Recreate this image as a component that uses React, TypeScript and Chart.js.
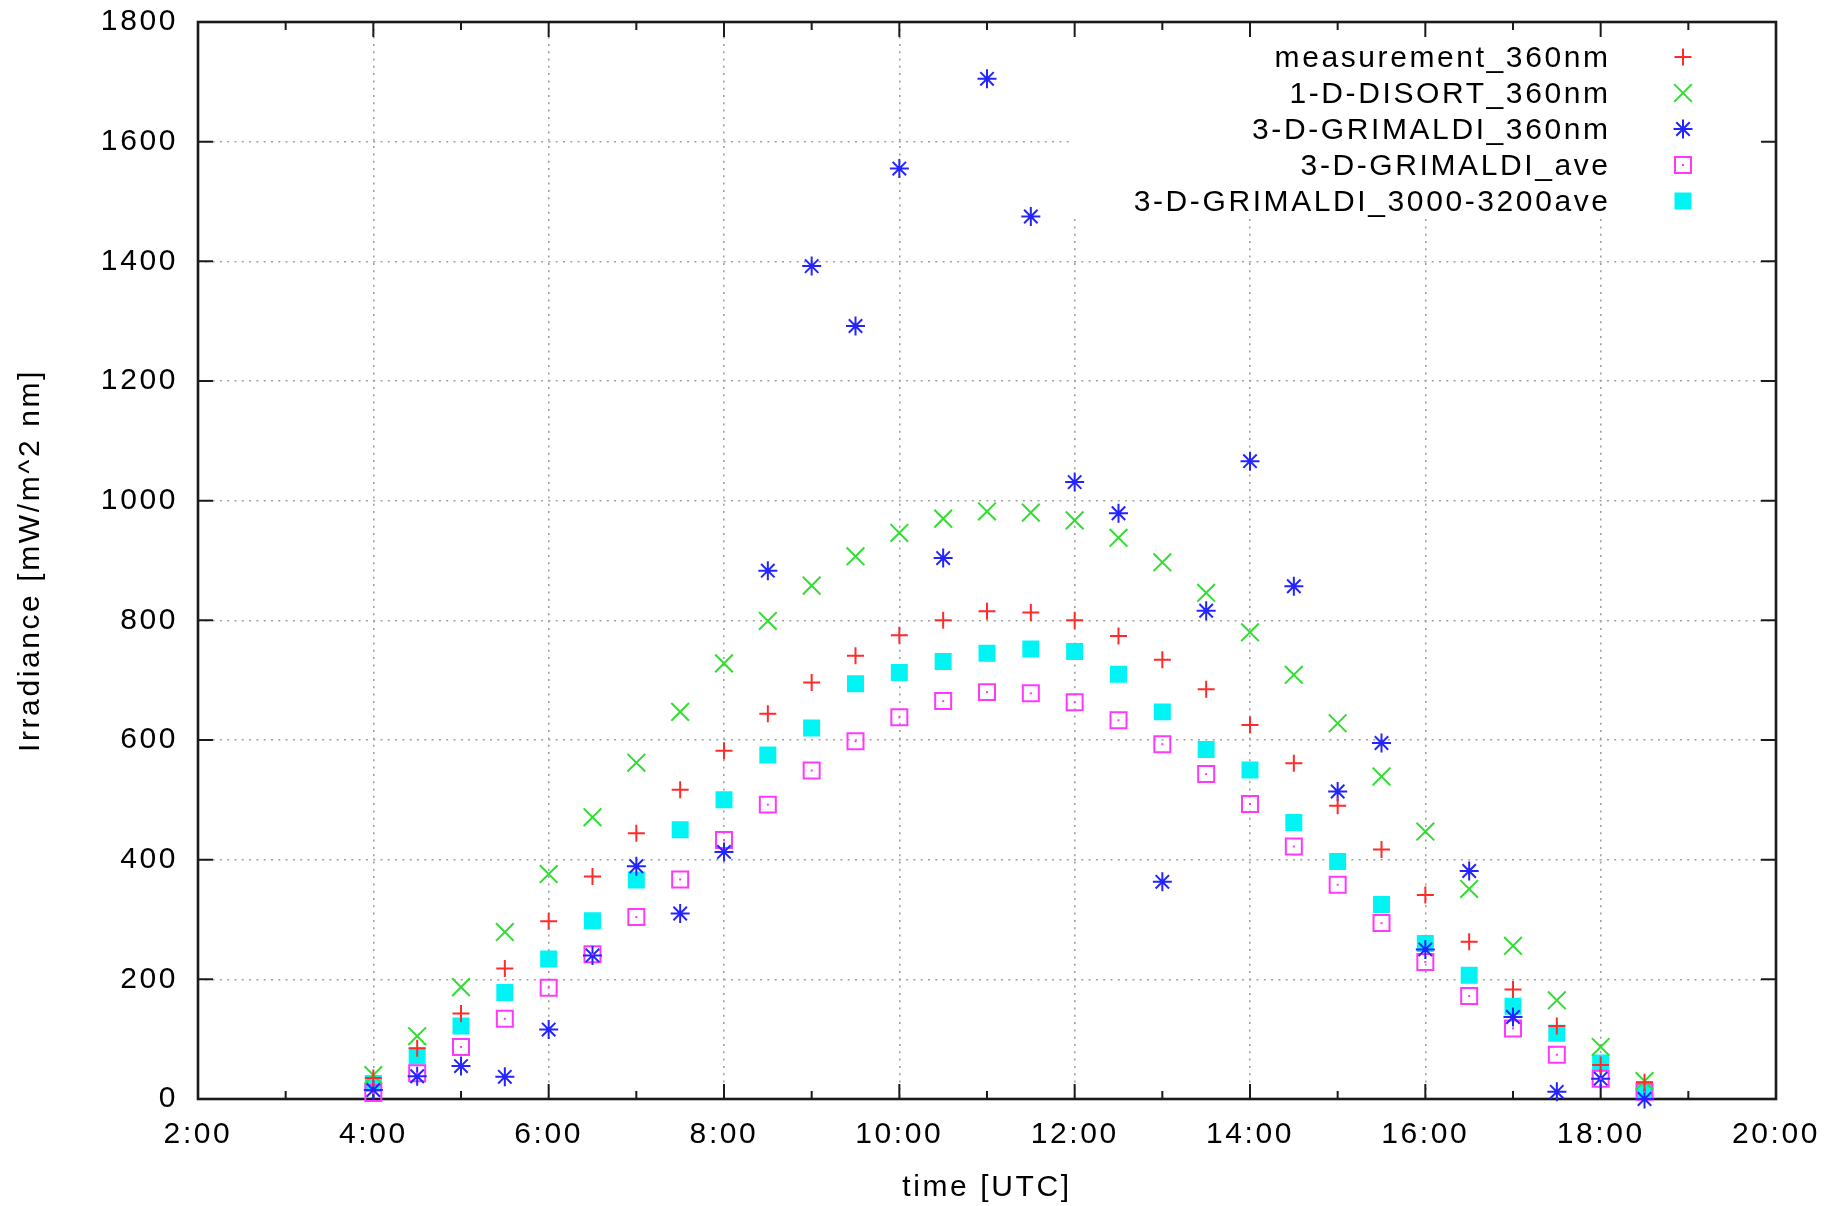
import React, { useEffect, useRef } from 'react';
import { Chart, registerables } from 'chart.js';

Chart.register(...registerables);

// ---- data (hours UTC, irradiance mW/m^2 nm) ----
const timeHours = [4, 4.5, 5, 5.5, 6, 6.5, 7, 7.5, 8, 8.5, 9, 9.5, 10, 10.5, 11, 11.5, 12, 12.5, 13, 13.5, 14, 14.5, 15, 15.5, 16, 16.5, 17, 17.5, 18, 18.5];

const measurement360 = [35, 85, 143, 218, 297, 372, 444, 517, 582, 644, 696, 741, 775, 800, 815, 813, 800, 774, 734, 685, 625, 561, 490, 417, 341, 263, 183, 122, 57, 28];
const disort360 = [40, 105, 187, 279, 376, 471, 562, 647, 728, 799, 858, 907, 946, 970, 982, 980, 967, 938, 897, 846, 780, 709, 628, 539, 447, 351, 256, 165, 87, 30];
const grimaldi360 = [15, 38, 55, 37, 116, 240, 389, 310, 413, 883, 1392, 1292, 1555, 904, 1705, 1475, 1031, 979, 363, 816, 1066, 857, 514, 595, 250, 381, 137, 12, 34, 0];
const grimaldiAve = [10, 43, 87, 134, 186, 242, 304, 367, 433, 492, 549, 598, 638, 665, 680, 678, 663, 633, 593, 543, 493, 422, 358, 294, 229, 172, 118, 74, 34, 12];
const grimaldi3000 = [26, 72, 122, 178, 234, 298, 366, 450, 500, 575, 620, 694, 713, 731, 745, 752, 748, 710, 647, 584, 550, 462, 397, 325, 260, 207, 155, 110, 60, 15];

const seriesNames = [
  'measurement_360nm',
  '1-D-DISORT_360nm',
  '3-D-GRIMALDI_360nm',
  '3-D-GRIMALDI_ave',
  '3-D-GRIMALDI_3000-3200ave',
];
const seriesValues = [measurement360, disort360, grimaldi360, grimaldiAve, grimaldi3000];

const xMin = 2;
const xMax = 20;
const xStep = 2;
const yMin = 0;
const yMax = 1800;
const yStep = 200;
const xTitle = 'time [UTC]';
const yTitle = 'Irradiance [mW/m^2 nm]';

// ---- styles ----
const FONT_FAMILY = "'Liberation Sans', Arial, Helvetica, sans-serif";
const FONT = { family: FONT_FAMILY, size: 30, lineHeight: 1 };
const LETTER_SPACING = '2.6px';

const seriesStyles = [
  { color: '#ff2a2a', pointStyle: 'cross', radius: 8.5, width: 2, fill: 'rgba(0,0,0,0)' },
  { color: '#2fde2f', pointStyle: 'crossRot', radius: 12.5, width: 2, fill: 'rgba(0,0,0,0)' },
  { color: '#2424ff', pointStyle: 'star', radius: 9.5, width: 2, fill: 'rgba(0,0,0,0)' },
  { color: '#ff38ff', pointStyle: 'rect', radius: 11.3, width: 2, fill: 'rgba(0,0,0,0)' },
  { color: '#00f4f4', pointStyle: 'rect', radius: 10.6, width: 2, fill: '#00f4f4' },
];

const KEY_BOX_LEFT = 1070;
const KEY_BOX_BOTTOM = 219;
const KEY_TEXT_RIGHT = 1610.6;
const KEY_MARK_X = 1683;
const KEY_FIRST_Y = 57;
const KEY_ROW = 36;

function drawMarker(ctx: CanvasRenderingContext2D, s: any, x: number, y: number) {
  ctx.save();
  ctx.strokeStyle = s.color;
  ctx.fillStyle = s.fill;
  ctx.lineWidth = s.width;
  const r = s.radius;
  const d = r * Math.SQRT1_2;
  ctx.beginPath();
  if (s.pointStyle === 'cross' || s.pointStyle === 'star') {
    ctx.moveTo(x - r, y); ctx.lineTo(x + r, y);
    ctx.moveTo(x, y - r); ctx.lineTo(x, y + r);
  }
  if (s.pointStyle === 'crossRot' || s.pointStyle === 'star') {
    ctx.moveTo(x - d, y - d); ctx.lineTo(x + d, y + d);
    ctx.moveTo(x + d, y - d); ctx.lineTo(x - d, y + d);
  }
  if (s.pointStyle === 'rect') {
    ctx.rect(x - d, y - d, 2 * d, 2 * d);
    ctx.fill();
  }
  ctx.stroke();
  ctx.restore();
}

const gnuplotFrame = {
  id: 'gnuplotFrame',
  beforeDraw(chart: any) {
    chart.ctx.letterSpacing = LETTER_SPACING;
  },
  beforeDatasetsDraw(chart: any) {
    const { ctx, chartArea: a, scales } = chart;
    ctx.save();
    // opaque key box
    ctx.fillStyle = '#ffffff';
    ctx.fillRect(KEY_BOX_LEFT, a.top + 1, a.right - KEY_BOX_LEFT - 1, KEY_BOX_BOTTOM - a.top - 1);
    // inward ticks on all four sides
    ctx.strokeStyle = '#1a1a1a';
    ctx.lineWidth = 2;
    ctx.beginPath();
    for (let h = xMin; h <= xMax; h += 1) {
      const len = (h - xMin) % xStep === 0 ? 15 : 8;
      const px = scales.x.getPixelForValue(h);
      ctx.moveTo(px, a.bottom); ctx.lineTo(px, a.bottom - len);
      ctx.moveTo(px, a.top); ctx.lineTo(px, a.top + len);
    }
    for (let v = yMin; v <= yMax; v += yStep) {
      const py = scales.y.getPixelForValue(v);
      ctx.moveTo(a.left, py); ctx.lineTo(a.left + 15, py);
      ctx.moveTo(a.right, py); ctx.lineTo(a.right - 15, py);
    }
    ctx.stroke();
    ctx.lineWidth = 2.6;
    ctx.strokeRect(a.left, a.top, a.right - a.left, a.bottom - a.top);
    ctx.restore();
  },
  afterDatasetsDraw(chart: any) {
    const { ctx } = chart;
    ctx.save();
    // centre dots of open squares
    const meta = chart.getDatasetMeta(3);
    ctx.fillStyle = seriesStyles[3].color;
    meta.data.forEach((pt: any) => ctx.fillRect(pt.x - 1, pt.y - 1, 2, 2));
    // key
    ctx.font = `${FONT.size}px ${FONT_FAMILY}`;
    ctx.letterSpacing = LETTER_SPACING;
    ctx.textAlign = 'right';
    ctx.textBaseline = 'middle';
    seriesNames.forEach((name, i) => {
      const y = KEY_FIRST_Y + i * KEY_ROW;
      ctx.fillStyle = '#000';
      ctx.fillText(name, KEY_TEXT_RIGHT, y + 2);
      drawMarker(ctx, seriesStyles[i], KEY_MARK_X, y);
      if (i === 3) {
        ctx.fillStyle = seriesStyles[3].color;
        ctx.fillRect(KEY_MARK_X - 1, y - 1, 2, 2);
      }
    });
    ctx.restore();
  },
};

export default function App() {
  const canvasRef = useRef<HTMLCanvasElement | null>(null);

  useEffect(() => {
    const canvas = canvasRef.current;
    if (!canvas) return;
    const datasets = seriesNames.map((name, i) => {
      const s = seriesStyles[i];
      return {
        label: name,
        data: timeHours.map((t, j) => ({ x: t, y: seriesValues[i][j] })),
        showLine: false,
        pointStyle: s.pointStyle,
        pointRadius: s.radius,
        pointHoverRadius: s.radius,
        pointBorderWidth: s.width,
        pointHoverBorderWidth: s.width,
        pointBorderColor: s.color,
        pointBackgroundColor: s.fill,
        borderColor: s.color,
        backgroundColor: s.fill,
        clip: false,
      };
    });

    const gridStyle = { color: '#a0a0a0', lineWidth: 1.6, drawTicks: false };
    const chart = new Chart(canvas, {
      type: 'scatter',
      data: { datasets } as any,
      plugins: [gnuplotFrame as any],
      options: {
        animation: false,
        responsive: true,
        maintainAspectRatio: false,
        devicePixelRatio: 1,
        events: [],
        layout: { padding: { left: 0, top: 22, right: 48, bottom: 0 } },
        plugins: { legend: { display: false }, tooltip: { enabled: false } },
        scales: {
          x: {
            type: 'linear',
            min: xMin,
            max: xMax,
            grid: gridStyle,
            border: { display: false, dash: [2, 5.3] },
            ticks: {
              stepSize: xStep,
              autoSkip: false,
              maxRotation: 0,
              padding: 21,
              color: '#000',
              font: FONT,
              callback: (v: any) => `${v}:00`,
            },
            title: { display: true, text: xTitle, color: '#000', font: FONT, padding: { top: 0, bottom: 3 } },
            afterFit: (scale: any) => {
              scale.height = 107;
              scale.paddingLeft = 0;
              scale.paddingRight = 0;
              scale.paddingTop = 0;
              scale.paddingBottom = 0;
            },
          },
          y: {
            type: 'linear',
            min: yMin,
            max: yMax,
            grid: gridStyle,
            border: { display: false, dash: [2, 5.3] },
            ticks: { stepSize: yStep, padding: 20, color: '#000', font: FONT, callback: (v: any) => String(v) },
            title: { display: true, text: yTitle, color: '#000', font: FONT, padding: { top: 16, bottom: 0 } },
            afterFit: (scale: any) => {
              scale.width = 198;
              scale.paddingLeft = 0;
              scale.paddingRight = 0;
              scale.paddingTop = 0;
              scale.paddingBottom = 0;
            },
          },
        },
      } as any,
    });
    return () => chart.destroy();
  }, []);

  return (
    <div style={{ position: 'fixed', left: 0, top: 0, width: 1824, height: 1206, background: '#ffffff' }}>
      <canvas ref={canvasRef} />
    </div>
  );
}
